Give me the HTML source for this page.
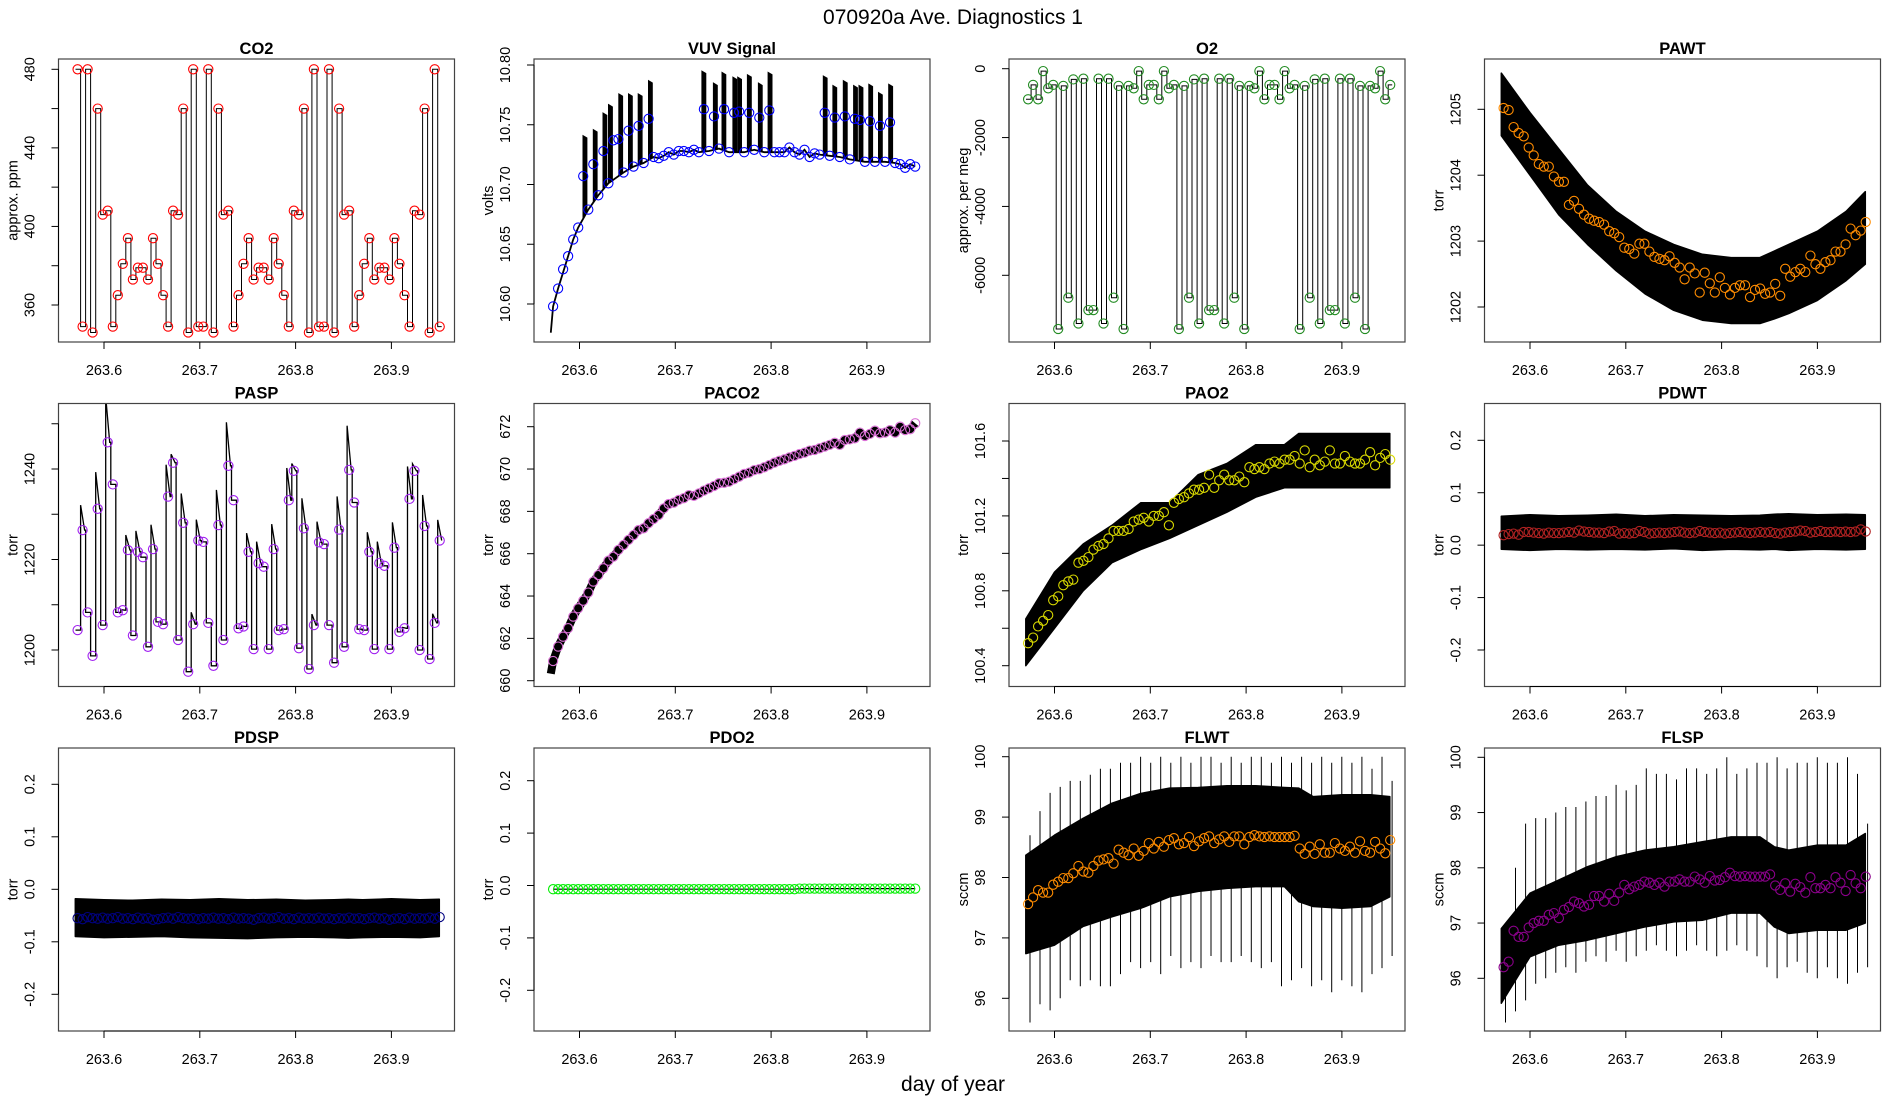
<!DOCTYPE html>
<html><head><meta charset="utf-8"><title>070920a Ave. Diagnostics 1</title>
<style>
html,body{margin:0;padding:0;background:#fff;}
svg{display:block;font-family:"Liberation Sans",Arial,sans-serif;}
</style></head>
<body>
<svg id="fig" width="1900" height="1100" viewBox="0 0 1900 1100" xmlns="http://www.w3.org/2000/svg">
<rect x="0" y="0" width="1900" height="1100" fill="#fff"/>
<text x="953" y="24" font-size="21" text-anchor="middle">070920a   Ave. Diagnostics 1</text>
<text x="953" y="1091" font-size="21" text-anchor="middle">day of year</text>
</svg>
<script>
// ---------- data ----------
const t0 = 263.5724;
const dt = 0.00525;
const bandT = [263.570,263.600,263.630,263.660,263.690,263.720,263.750,263.780,263.810,263.840,263.855,263.870,263.900,263.930,263.950];
const xTicks = [263.6,263.7,263.8,263.9];
const xTickLabels = ["263.6","263.7","263.8","263.9"];

const co2 = [480,349,480,346,460,406,408,349,365,381,394,373,379,379,373,394,381,365,349,408,406,460,346,480,349,349,480,346,460,406,408,349,365,381,394,373,379,379,373,394,381,365,349,408,406,460,346,480,349,349,480,346,460,406,408,349,365,381,394,373,379,379,373,394,381,365,349,408,406,460,346,480,349];
const vuv = [10.598,10.613,10.629,10.640,10.654,10.664,10.707,10.679,10.717,10.691,10.728,10.701,10.737,10.738,10.710,10.745,10.715,10.749,10.718,10.755,10.723,10.722,10.724,10.727,10.725,10.728,10.728,10.727,10.729,10.727,10.763,10.728,10.757,10.730,10.763,10.727,10.760,10.761,10.727,10.760,10.729,10.756,10.727,10.762,10.727,10.727,10.727,10.731,10.727,10.725,10.729,10.723,10.726,10.725,10.760,10.724,10.756,10.723,10.757,10.721,10.755,10.754,10.719,10.753,10.719,10.749,10.719,10.752,10.718,10.717,10.714,10.717,10.715];
const vuvSpikeT = [263.6036,263.6143,263.6244,263.6302,263.6409,263.6510,263.6612,263.6719,263.7277,263.7397,263.7486,263.7600,263.7650,263.7752,263.7866,263.7968,263.8544,263.8644,263.8753,263.8860,263.8917,263.9019,263.9120,263.9227];
const vuvSpikeTop = [10.741,10.746,10.760,10.767,10.776,10.776,10.776,10.787,10.795,10.785,10.794,10.790,10.790,10.792,10.785,10.794,10.791,10.783,10.787,10.783,10.783,10.784,10.777,10.784];
const o2 = [-890,-470,-890,-70,-570,-470,-7560,-500,-6650,-310,-7400,-290,-7010,-7010,-290,-7400,-290,-6650,-500,-7560,-500,-570,-70,-890,-470,-470,-890,-70,-570,-470,-7560,-500,-6650,-310,-7400,-290,-7010,-7010,-290,-7400,-290,-6650,-500,-7560,-500,-570,-70,-890,-470,-470,-890,-70,-570,-470,-7560,-500,-6650,-310,-7400,-290,-7010,-7010,-290,-7400,-290,-6650,-500,-7560,-500,-570,-70,-890,-470];
const pawt = [1205.02,1204.99,1204.73,1204.64,1204.59,1204.42,1204.30,1204.17,1204.13,1204.13,1203.98,1203.90,1203.90,1203.55,1203.61,1203.49,1203.40,1203.34,1203.31,1203.29,1203.25,1203.15,1203.12,1203.06,1202.90,1202.88,1202.81,1202.96,1202.96,1202.84,1202.76,1202.73,1202.71,1202.77,1202.67,1202.60,1202.42,1202.60,1202.51,1202.22,1202.52,1202.36,1202.22,1202.45,1202.29,1202.19,1202.29,1202.33,1202.33,1202.15,1202.26,1202.28,1202.20,1202.22,1202.35,1202.17,1202.58,1202.46,1202.53,1202.58,1202.53,1202.78,1202.65,1202.58,1202.68,1202.71,1202.84,1202.84,1202.95,1203.19,1203.09,1203.16,1203.29];
const pawtHi = [1205.55,1204.95,1204.40,1203.85,1203.45,1203.15,1202.95,1202.80,1202.75,1202.75,1202.85,1202.95,1203.15,1203.45,1203.75];
const pawtLo = [1204.60,1204.00,1203.40,1202.95,1202.55,1202.20,1201.95,1201.80,1201.75,1201.75,1201.82,1201.90,1202.10,1202.40,1202.65];
const pasp = [1204.4,1226.5,1208.3,1198.7,1231.2,1205.5,1245.9,1236.6,1208.3,1208.8,1222.1,1203.2,1221.7,1220.5,1200.7,1222.3,1206.2,1205.7,1233.9,1241.4,1202.2,1228.1,1195.2,1205.7,1224.2,1223.9,1206.0,1196.5,1227.6,1202.2,1240.7,1233.1,1204.8,1205.2,1221.7,1200.2,1219.2,1218.4,1200.2,1222.3,1204.4,1204.6,1233.1,1239.6,1200.4,1226.9,1195.8,1205.5,1223.8,1223.4,1205.5,1197.2,1226.6,1200.7,1239.8,1232.6,1204.6,1204.4,1221.7,1200.2,1219.2,1218.6,1200.2,1222.6,1204.0,1204.8,1233.4,1239.6,1200.0,1227.4,1198.0,1206.0,1224.2];
const paco2 = [660.93,661.61,662.08,662.48,663.03,663.42,663.78,664.16,664.68,664.99,665.31,665.67,665.86,666.18,666.41,666.65,666.88,667.12,667.20,667.44,667.64,667.83,668.14,668.35,668.41,668.54,668.62,668.77,668.73,668.85,668.98,669.09,669.20,669.33,669.35,669.40,669.52,669.64,669.77,669.83,669.95,669.99,670.08,670.19,670.30,670.39,670.46,670.55,670.62,670.71,670.77,670.87,670.90,670.98,671.06,671.14,671.24,671.14,671.37,671.40,671.45,671.72,671.56,671.66,671.81,671.69,671.72,671.84,671.72,672.00,671.84,671.88,672.16];
const pao2 = [100.52,100.55,100.61,100.64,100.67,100.75,100.77,100.83,100.85,100.86,100.95,100.96,100.98,101.02,101.04,101.05,101.08,101.12,101.12,101.12,101.13,101.17,101.18,101.19,101.17,101.20,101.20,101.22,101.15,101.27,101.29,101.30,101.32,101.34,101.34,101.35,101.42,101.35,101.39,101.42,101.39,101.39,101.41,101.38,101.46,101.45,101.46,101.45,101.48,101.49,101.48,101.50,101.50,101.52,101.48,101.55,101.46,101.50,101.47,101.49,101.55,101.48,101.48,101.52,101.49,101.48,101.48,101.50,101.54,101.47,101.51,101.53,101.50];
const pao2Hi = [100.65,100.90,101.05,101.15,101.27,101.27,101.42,101.48,101.58,101.58,101.64,101.64,101.64,101.64,101.64];
const pao2Lo = [100.40,100.60,100.80,100.95,101.02,101.08,101.15,101.22,101.30,101.35,101.35,101.35,101.35,101.35,101.35];
const pdwt = [0.019,0.021,0.022,0.020,0.025,0.025,0.024,0.023,0.022,0.024,0.023,0.023,0.024,0.025,0.024,0.028,0.026,0.025,0.024,0.024,0.023,0.026,0.027,0.022,0.023,0.022,0.023,0.027,0.025,0.022,0.023,0.024,0.023,0.024,0.025,0.026,0.024,0.023,0.024,0.027,0.025,0.024,0.023,0.024,0.022,0.023,0.024,0.025,0.024,0.023,0.024,0.025,0.024,0.025,0.023,0.022,0.024,0.025,0.026,0.028,0.027,0.024,0.025,0.027,0.025,0.025,0.026,0.025,0.026,0.025,0.026,0.030,0.026];
const pdwtHi = [0.055,0.058,0.056,0.057,0.059,0.056,0.058,0.057,0.056,0.057,0.059,0.060,0.058,0.059,0.058];
const pdwtLo = [-0.008,-0.010,-0.008,-0.009,-0.008,-0.009,-0.007,-0.010,-0.008,-0.009,-0.008,-0.010,-0.008,-0.009,-0.008];
const pdsp = [-0.055,-0.057,-0.053,-0.055,-0.056,-0.054,-0.056,-0.055,-0.053,-0.056,-0.055,-0.057,-0.054,-0.056,-0.055,-0.058,-0.057,-0.055,-0.054,-0.056,-0.053,-0.055,-0.056,-0.055,-0.057,-0.055,-0.056,-0.054,-0.056,-0.055,-0.057,-0.054,-0.056,-0.055,-0.056,-0.058,-0.055,-0.054,-0.056,-0.055,-0.053,-0.056,-0.055,-0.057,-0.054,-0.056,-0.055,-0.056,-0.054,-0.056,-0.055,-0.057,-0.055,-0.056,-0.054,-0.056,-0.055,-0.057,-0.055,-0.054,-0.056,-0.055,-0.058,-0.056,-0.055,-0.057,-0.054,-0.056,-0.055,-0.056,-0.054,-0.056,-0.053];
const pdspHi = [-0.018,-0.020,-0.021,-0.019,-0.020,-0.018,-0.020,-0.019,-0.021,-0.020,-0.019,-0.020,-0.018,-0.020,-0.019];
const pdspLo = [-0.090,-0.092,-0.091,-0.090,-0.092,-0.093,-0.094,-0.092,-0.091,-0.092,-0.093,-0.092,-0.091,-0.092,-0.090];
const pdo2 = [-0.007,-0.007,-0.007,-0.007,-0.007,-0.007,-0.007,-0.007,-0.007,-0.007,-0.007,-0.007,-0.007,-0.007,-0.007,-0.007,-0.007,-0.007,-0.007,-0.007,-0.007,-0.007,-0.007,-0.007,-0.007,-0.007,-0.007,-0.007,-0.007,-0.007,-0.007,-0.007,-0.007,-0.007,-0.007,-0.007,-0.007,-0.007,-0.007,-0.007,-0.007,-0.007,-0.007,-0.007,-0.007,-0.007,-0.007,-0.007,-0.007,-0.006,-0.006,-0.006,-0.006,-0.006,-0.006,-0.006,-0.006,-0.006,-0.006,-0.006,-0.006,-0.006,-0.006,-0.006,-0.006,-0.006,-0.006,-0.006,-0.006,-0.006,-0.006,-0.006,-0.006];
const flwt = [97.56,97.67,97.79,97.75,97.75,97.88,97.93,97.99,97.99,98.07,98.19,98.10,98.08,98.19,98.28,98.30,98.32,98.23,98.46,98.41,98.37,98.48,98.36,98.44,98.57,98.48,98.59,98.51,98.62,98.65,98.55,98.57,98.67,98.52,98.60,98.65,98.68,98.57,98.63,98.68,98.59,98.68,98.68,98.55,98.67,98.70,98.68,98.67,98.68,98.67,98.67,98.67,98.67,98.69,98.48,98.39,98.51,98.39,98.55,98.41,98.41,98.57,98.48,98.44,98.51,98.41,98.60,98.44,98.41,98.59,98.48,98.40,98.62];
const flwtHi = [98.37,98.70,98.98,99.23,99.39,99.48,99.49,99.52,99.52,99.49,99.48,99.34,99.37,99.37,99.34];
const flwtLo = [96.74,96.88,97.19,97.35,97.49,97.68,97.77,97.82,97.85,97.85,97.60,97.52,97.49,97.52,97.68];
const flwtSpikeUp = [98.7,99.1,99.4,99.5,99.6,99.6,99.7,99.8,99.8,99.9,99.9,100.0,99.9,100.0,99.9,100.0,99.9,100.0,100.0,99.9,100.0,99.9,100.0,100.0,99.9,100.0,99.9,100.0,99.9,100.0,99.9,100.0,99.9,100.0,99.8,100.0,99.6];
const flwtSpikeDn = [95.6,95.9,95.8,96.0,96.3,96.2,96.3,96.2,96.2,96.4,96.6,96.5,96.6,96.4,96.7,96.5,96.6,96.5,96.7,96.6,96.6,96.7,96.6,96.5,96.6,96.2,96.3,96.5,96.2,96.3,96.1,96.3,96.2,96.1,96.4,96.5,96.7];
const flsp = [96.20,96.30,96.86,96.75,96.75,96.92,97.00,97.04,97.04,97.15,97.18,97.09,97.24,97.29,97.39,97.36,97.30,97.33,97.49,97.49,97.39,97.53,97.40,97.55,97.69,97.61,97.66,97.69,97.75,97.73,97.69,97.73,97.66,97.75,97.75,97.79,97.75,97.75,97.84,97.79,97.73,97.85,97.77,97.78,97.83,97.91,97.85,97.84,97.85,97.84,97.84,97.84,97.84,97.88,97.68,97.60,97.72,97.57,97.71,97.65,97.55,97.83,97.63,97.63,97.69,97.63,97.83,97.73,97.58,97.87,97.72,97.63,97.84];
const flspHi = [96.90,97.54,97.78,98.02,98.20,98.32,98.38,98.47,98.56,98.56,98.38,98.32,98.41,98.41,98.62];
const flspLo = [95.55,96.39,96.60,96.69,96.81,96.93,97.02,97.05,97.18,97.18,96.93,96.81,96.87,96.87,97.00];
const flspSpikeUp = [97.0,98.0,98.8,98.9,98.9,99.0,99.1,99.1,99.2,99.3,99.3,99.5,99.4,99.5,99.8,99.7,99.7,99.6,99.8,99.8,99.7,99.8,100.0,99.7,99.8,99.9,99.9,100.0,99.8,99.9,99.9,100.0,99.9,99.9,100.0,99.7,98.8];
const flspSpikeDn = [95.2,95.4,95.6,95.9,96.0,96.1,96.2,96.1,96.3,96.4,96.3,96.5,96.3,96.4,96.5,96.6,96.5,96.4,96.5,96.6,96.5,96.4,96.5,96.6,96.5,96.4,96.2,96.0,96.2,96.3,96.1,96.0,96.2,96.0,95.9,96.1,96.2];

// ---------- layout ----------
const NS = "http://www.w3.org/2000/svg";
const svg = document.getElementById('fig');
const colLeft = [58.5, 534, 1009, 1484.5];
const rowTop = [59, 403.5, 748];
const PW = 396, PH = 283;
function timeAt(i){ return t0 + i*dt; }
function mk(tag, attrs, parent){
  const e = document.createElementNS(NS, tag);
  for (const k in attrs) e.setAttribute(k, attrs[k]);
  (parent||svg).appendChild(e);
  return e;
}
function xScale(col, t){ return colLeft[col] + 45.5 + (t - 263.6)*958; }
function yScaleFn(v1,p1,v2,p2){ return v => p1 + (v - v1)*(p2 - p1)/(v2 - v1); }

const panels = [
 {key:'co2', title:'CO2', col:0,row:0, ylab:'approx. ppm', ref:[480,69.3,360,305], ticks:[360,380,400,420,440,460,480], labels:{360:'360',400:'400',440:'440',480:'480'}, color:'#ff0000', data:co2, kind:'step'},
 {key:'vuv', title:'VUV Signal', col:1,row:0, ylab:'volts', ref:[10.80,65,10.60,304], ticks:[10.60,10.65,10.70,10.75,10.80], labels:{'10.6':'10.60','10.65':'10.65','10.7':'10.70','10.75':'10.75','10.8':'10.80'}, color:'#0000ff', data:vuv, kind:'vuv'},
 {key:'o2', title:'O2', col:2,row:0, ylab:'approx. per meg', ref:[0,68.7,-6000,275.3], ticks:[-6000,-4000,-2000,0], labels:{'-6000':'-6000','-4000':'-4000','-2000':'-2000','0':'0'}, color:'#228b22', data:o2, kind:'step'},
 {key:'pawt', title:'PAWT', col:3,row:0, ylab:'torr', ref:[1205,109.3,1202,307], ticks:[1202,1203,1204,1205], labels:{1202:'1202',1203:'1203',1204:'1204',1205:'1205'}, color:'#ff8c00', data:pawt, kind:'band', hi:pawtHi, lo:pawtLo},
 {key:'pasp', title:'PASP', col:0,row:1, ylab:'torr', ref:[1240,469,1200,650], ticks:[1200,1210,1220,1230,1240,1250], labels:{1200:'1200',1220:'1220',1240:'1240'}, color:'#a020f0', data:pasp, kind:'pasp'},
 {key:'paco2', title:'PACO2', col:1,row:1, ylab:'torr', ref:[672,426.7,660,680.7], ticks:[660,662,664,666,668,670,672], labels:{660:'660',662:'662',664:'664',666:'666',668:'668',670:'670',672:'672'}, color:'#da70d6', data:paco2, kind:'thick'},
 {key:'pao2', title:'PAO2', col:2,row:1, ylab:'torr', ref:[101.6,441,100.4,665.7], ticks:[100.4,100.6,100.8,101.0,101.2,101.4,101.6], labels:{'100.4':'100.4','100.8':'100.8','101.2':'101.2','101.6':'101.6'}, color:'#d8d800', data:pao2, kind:'band', hi:pao2Hi, lo:pao2Lo},
 {key:'pdwt', title:'PDWT', col:3,row:1, ylab:'torr', ref:[0.2,440.3,-0.2,650], ticks:[-0.2,-0.1,0,0.1,0.2], labels:{'-0.2':'-0.2','-0.1':'-0.1','0':'0.0','0.1':'0.1','0.2':'0.2'}, color:'#b22222', data:pdwt, kind:'band', hi:pdwtHi, lo:pdwtLo},
 {key:'pdsp', title:'PDSP', col:0,row:2, ylab:'torr', ref:[0.2,784.3,-0.2,994.3], ticks:[-0.2,-0.1,0,0.1,0.2], labels:{'-0.2':'-0.2','-0.1':'-0.1','0':'0.0','0.1':'0.1','0.2':'0.2'}, color:'#000080', data:pdsp, kind:'band', hi:pdspHi, lo:pdspLo},
 {key:'pdo2', title:'PDO2', col:1,row:2, ylab:'torr', ref:[0.2,780.7,-0.2,990.3], ticks:[-0.2,-0.1,0,0.1,0.2], labels:{'-0.2':'-0.2','-0.1':'-0.1','0':'0.0','0.1':'0.1','0.2':'0.2'}, color:'#00ee00', data:pdo2, kind:'line'},
 {key:'flwt', title:'FLWT', col:2,row:2, ylab:'sccm', ref:[100,756.7,96,998.3], ticks:[96,97,98,99,100], labels:{96:'96',97:'97',98:'98',99:'99',100:'100'}, color:'#ff8c00', data:flwt, kind:'band', hi:flwtHi, lo:flwtLo, spUp:flwtSpikeUp, spDn:flwtSpikeDn},
 {key:'flsp', title:'FLSP', col:3,row:2, ylab:'sccm', ref:[100,757.3,96,978.3], ticks:[96,97,98,99,100], labels:{96:'96',97:'97',98:'98',99:'99',100:'100'}, color:'#8b008b', data:flsp, kind:'band', hi:flspHi, lo:flspLo, spUp:flspSpikeUp, spDn:flspSpikeDn}
];

panels.forEach(p => {
  const L = colLeft[p.col], T = rowTop[p.row], B = T + PH, R = L + PW;
  const ys = yScaleFn(p.ref[0], p.ref[1], p.ref[2], p.ref[3]);
  const xs = t => xScale(p.col, t);
  const g = mk('g', {});
  
  
  const cid = 'clip-' + p.key;
  const cp = mk('clipPath', {id: cid}, g);
  mk('rect', {x:L, y:T, width:PW, height:PH}, cp);
  const plot = mk('g', {'clip-path':'url(#' + cid + ')'}, g);
  
  

  const n = p.data.length;
  if (p.kind === 'step' || p.kind === 'pasp') {
    const h = 0.0021;
    let pts = [];
    for (let i = 0; i < n; i++) {
      const t = timeAt(i);
      let start = p.data[i];
      if (p.kind === 'pasp' && i > 0 && p.data[i] > p.data[i-1]) start = p.data[i] + (p.data[i] - p.data[i-1])*0.25;
      if (i > 0) pts.push(xs(t - h).toFixed(1) + ',' + ys(p.data[i-1]).toFixed(1));
      pts.push(xs(t - h).toFixed(1) + ',' + ys(start).toFixed(1));
      pts.push(xs(t + h).toFixed(1) + ',' + ys(p.data[i]).toFixed(1));
      if (i < n - 1) pts.push(xs(t + dt - h).toFixed(1) + ',' + ys(p.data[i]).toFixed(1));
    }
    const pl = mk('polyline', {points: pts.join(' '), fill:'none', stroke:'#000', 'stroke-width': p.kind==='pasp'?1.3:1}, plot);
    
    
  }
  if (p.kind === 'band') {
    let pts = [];
    for (let i = 0; i < bandT.length; i++) pts.push(xs(bandT[i]).toFixed(1) + ',' + ys(p.hi[i]).toFixed(1));
    for (let i = bandT.length - 1; i >= 0; i--) pts.push(xs(bandT[i]).toFixed(1) + ',' + ys(p.lo[i]).toFixed(1));
    const poly = mk('polygon', {points: pts.join(' '), fill:'#000', stroke:'#000', 'stroke-width':1.5, 'stroke-linejoin':'round'}, plot);
    
    
    if (p.spUp) {
      for (let k = 0; k < Math.min(p.spUp.length, p.spDn.length); k++) {
        const t = timeAt(2*k) + 0.002;
        const ln = mk('line', {x1: xs(t).toFixed(1), x2: xs(t).toFixed(1), y1: ys(p.spUp[k]).toFixed(1), y2: ys(p.spDn[k]).toFixed(1), stroke:'#000', 'stroke-width':1}, plot);
        
        
      }
    }
  }
  if (p.kind === 'thick') {
    let pts = [xs(263.570).toFixed(1) + ',' + ys(p.data[0] - 0.6).toFixed(1)];
    for (let i = 0; i < n; i++) pts.push(xs(timeAt(i)).toFixed(1) + ',' + ys(p.data[i]).toFixed(1));
    const pl = mk('polyline', {points: pts.join(' '), fill:'none', stroke:'#000', 'stroke-width':8, 'stroke-linejoin':'round'}, plot);
    
    
  }
  if (p.kind === 'line') {
    const pl = mk('polyline', {points: p.data.map((v,i) => xs(timeAt(i)).toFixed(1) + ',' + ys(v).toFixed(1)).join(' '), fill:'none', stroke:'#000', 'stroke-width':1.2}, plot);
    
    
  }
  if (p.kind === 'vuv') {
    // elevated points: clearly above a neighbour
    const isHigh = p.data.map((v,i) => {
      const a = i > 0 ? p.data[i-1] : v, b = i < n-1 ? p.data[i+1] : v;
      return v > Math.min(a, b) + 0.015;
    });
    const baseIdx = [];
    for (let i = 0; i < n; i++) if (!isHigh[i]) baseIdx.push(i);
    const baseAt = t => {
      let prev = baseIdx[0], next = baseIdx[baseIdx.length-1];
      for (const i of baseIdx) { if (timeAt(i) <= t) prev = i; }
      for (let k = baseIdx.length-1; k >= 0; k--) { if (timeAt(baseIdx[k]) >= t) next = baseIdx[k]; }
      if (prev === next) return p.data[prev];
      const f = (t - timeAt(prev)) / (timeAt(next) - timeAt(prev));
      return p.data[prev] + f*(p.data[next] - p.data[prev]);
    };
    for (let k = 0; k < vuvSpikeT.length; k++) {
      const ts = vuvSpikeT[k];
      const w = 0.0042;
      const pts = [[ts, vuvSpikeTop[k]], [ts + w, vuvSpikeTop[k] - 0.002], [ts + w, baseAt(ts + w)], [ts, baseAt(ts)]]
        .map(q => xs(q[0]).toFixed(1) + ',' + ys(q[1]).toFixed(1)).join(' ');
      const sp = mk('polygon', {points: pts, fill:'#000', stroke:'#000', 'stroke-width':0.8}, plot);
      
      
    }
    let pts = [xs(263.570).toFixed(1) + ',' + ys(10.576).toFixed(1)];
    baseIdx.forEach(i => pts.push(xs(timeAt(i)).toFixed(1) + ',' + ys(p.data[i]).toFixed(1)));
    const pl = mk('polyline', {points: pts.join(' '), fill:'none', stroke:'#000', 'stroke-width':1.8}, plot);
    
    
  }
  for (let i = 0; i < n; i++) {
    const c = mk('circle', {cx: xs(timeAt(i)).toFixed(1), cy: ys(p.data[i]).toFixed(1), r: 4.6, fill:'none', stroke: p.color, 'stroke-width':1.1}, plot);
    
    
  }
  const box = mk('rect', {x:L, y:T, width:PW, height:PH, fill:'none', stroke:'#444', 'stroke-width':1.2}, g);
  
  
  const xa = mk('g', {}, g);
  
  
  mk('line', {x1: xs(xTicks[0]), x2: xs(xTicks[xTicks.length-1]), y1:B, y2:B, stroke:'#000', 'stroke-width':1}, xa);
  xTicks.forEach((tv, k) => {
    const x = xs(tv);
    mk('line', {x1:x, x2:x, y1:B, y2:B+7, stroke:'#000', 'stroke-width':1}, xa);
    const tx = mk('text', {x:x, y:B+33, 'font-size':14.5, 'text-anchor':'middle'}, xa);
    tx.textContent = xTickLabels[k];
    
    
  });
  const ya = mk('g', {}, g);
  
  
  const tk = p.ticks;
  mk('line', {x1:L, x2:L, y1: ys(tk[0]), y2: ys(tk[tk.length-1]), stroke:'#000', 'stroke-width':1}, ya);
  tk.forEach(v => {
    const y = ys(v);
    mk('line', {x1:L-7, x2:L, y1:y, y2:y, stroke:'#000', 'stroke-width':1}, ya);
    const key = String(+v.toFixed(4));
    if (p.labels[key] !== undefined) {
      const tx = mk('text', {x:L-24, y:y, 'font-size':14.5, 'text-anchor':'middle', transform:'rotate(-90 ' + (L-24) + ' ' + y.toFixed(1) + ')'}, ya);
      tx.textContent = p.labels[key];
      
      
    }
  });
  const yt = mk('text', {x:L-41, y:T+PH/2, 'font-size':14.5, 'text-anchor':'middle', transform:'rotate(-90 ' + (L-41) + ' ' + (T+PH/2) + ')'}, g);
  yt.textContent = p.ylab;
  
  
  const tt = mk('text', {x: L + PW/2, y: T-5, 'font-size':16.5, 'font-weight':'bold', 'text-anchor':'middle'}, g);
  tt.textContent = p.title;
  
  
});
</script>
</body></html>
